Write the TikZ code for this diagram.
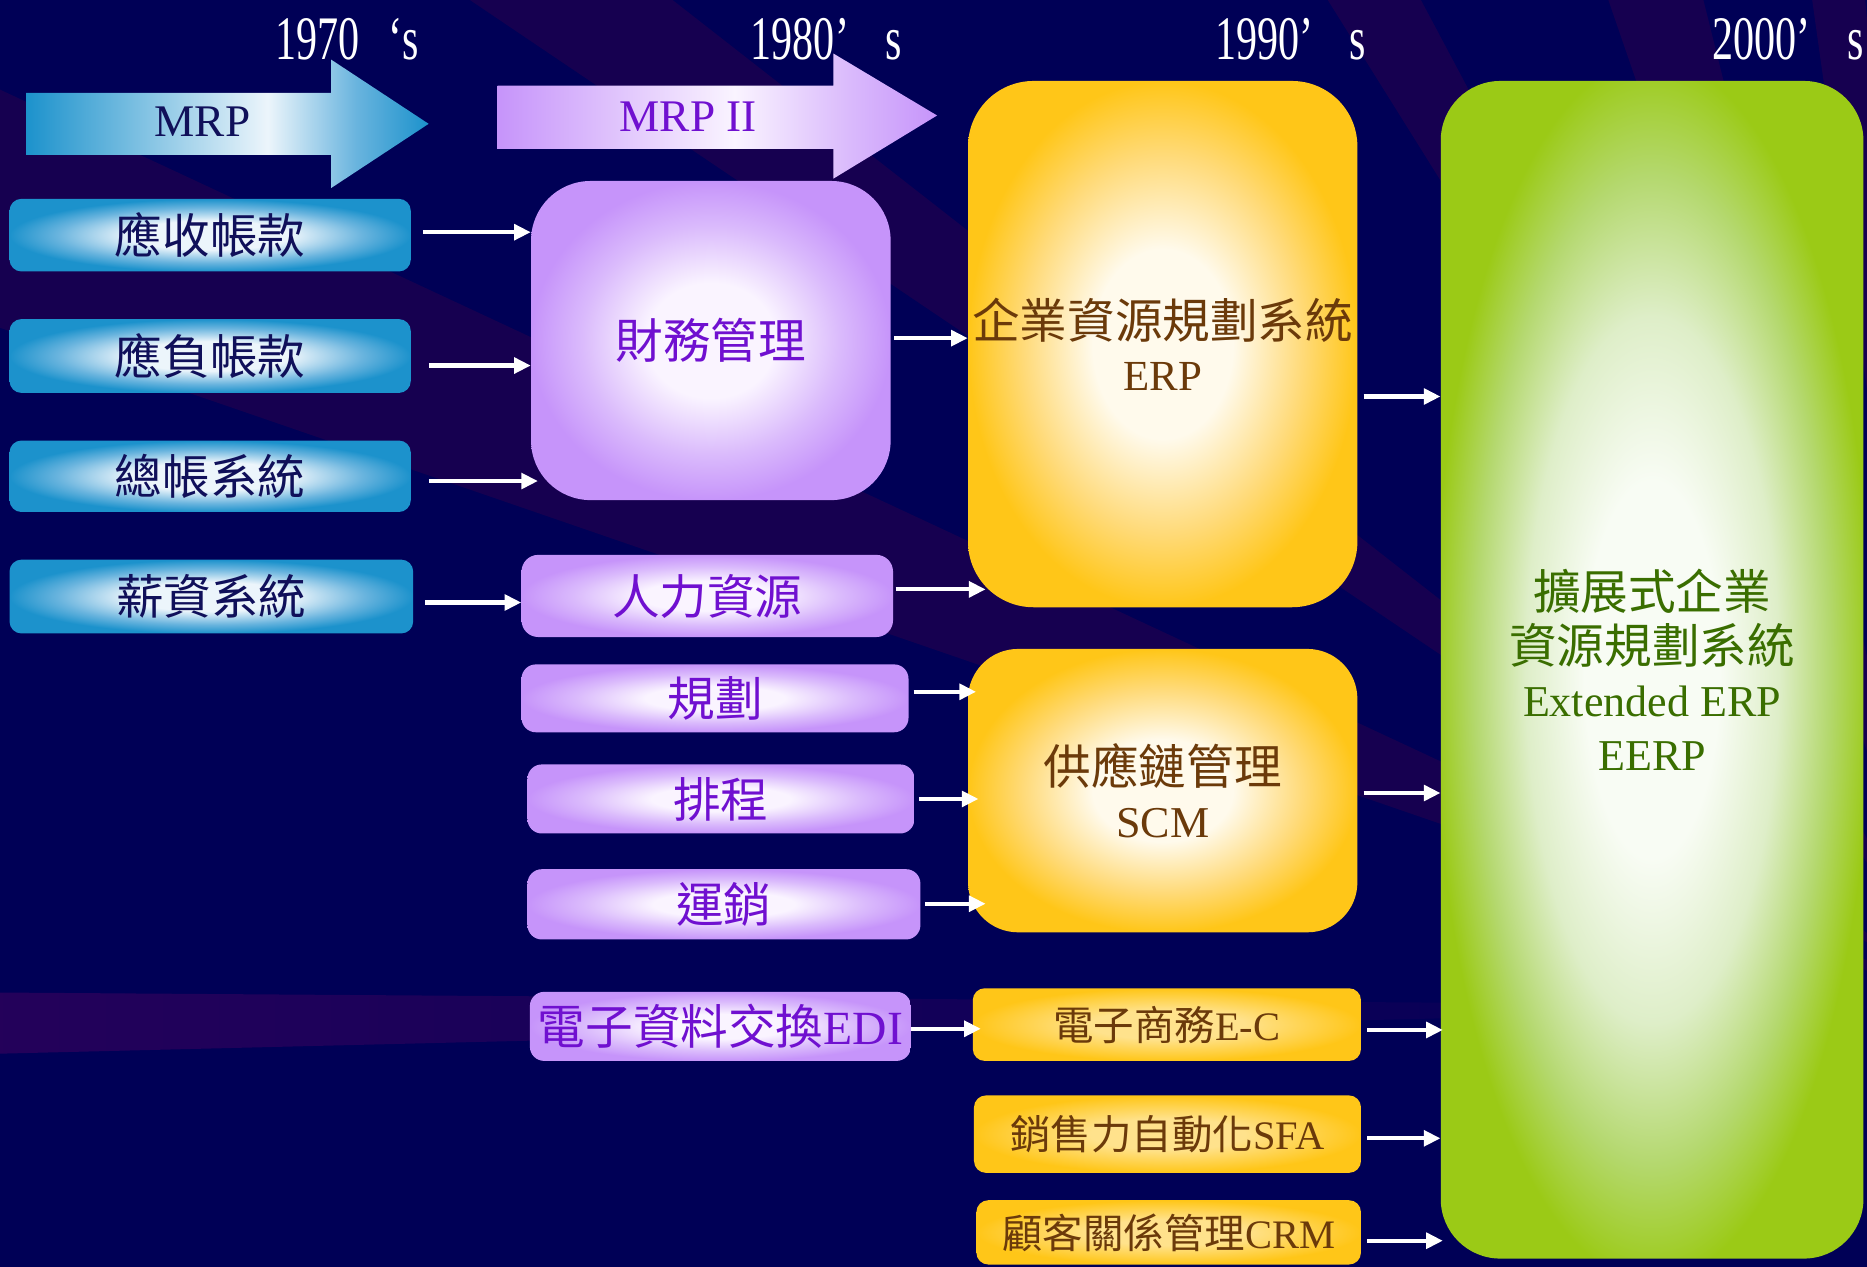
\documentclass[tikz,border=0pt]{standalone}
\usepackage{fontspec}
\usepackage{graphicx}
\setmainfont{Liberation Serif}
\newfontfamily\cjk{Noto Sans CJK TC}
\usetikzlibrary{arrows.meta,calc,fadings}

\definecolor{bgnavy}{RGB}{0,0,86}
\definecolor{raycol}{RGB}{22,0,80}
\definecolor{pinkray}{RGB}{44,2,92}
\definecolor{blueout}{RGB}{28,146,204}
\definecolor{bluemid}{RGB}{105,180,222}
\definecolor{bluein}{RGB}{236,245,251}
\definecolor{purpout}{RGB}{198,148,250}
\definecolor{purpmid}{RGB}{218,186,252}
\definecolor{purpin}{RGB}{250,244,255}
\definecolor{yelout}{RGB}{255,198,24}
\definecolor{yelmid}{RGB}{255,218,120}
\definecolor{yelin}{RGB}{255,250,236}
\definecolor{yelsin}{RGB}{255,226,140}
\definecolor{grnout}{RGB}{155,202,22}
\definecolor{grnmid}{RGB}{180,216,110}
\definecolor{grnlight}{RGB}{222,238,200}
\definecolor{grnin}{RGB}{248,252,244}
\definecolor{navytext}{RGB}{16,16,90}
\definecolor{purptext}{RGB}{112,16,208}
\definecolor{browntext}{RGB}{107,58,10}
\definecolor{greentext}{RGB}{58,110,0}

% note: the 50bp central square of a shading is mapped onto the path's bounding box
\pgfdeclareradialshading{blueglow}{\pgfpoint{0bp}{0bp}}{color(0bp)=(bluein);color(10bp)=(bluein);color(19bp)=(bluemid);color(25bp)=(blueout);color(50bp)=(blueout)}
\pgfdeclareradialshading{purpglow}{\pgfpoint{0bp}{0bp}}{color(0bp)=(purpin);color(9bp)=(purpin);color(18bp)=(purpmid);color(25bp)=(purpout);color(50bp)=(purpout)}
\pgfdeclareradialshading{yelglow}{\pgfpoint{0bp}{0bp}}{color(0bp)=(yelin);color(9bp)=(yelin);color(18bp)=(yelmid);color(25bp)=(yelout);color(50bp)=(yelout)}
\pgfdeclareradialshading{yelsmall}{\pgfpoint{0bp}{0bp}}{color(0bp)=(yelsin);color(10bp)=(yelsin);color(25bp)=(yelout);color(50bp)=(yelout)}
\pgfdeclareradialshading{grnglow}{\pgfpoint{0bp}{0bp}}{color(0bp)=(grnin);color(8bp)=(grnin);color(15bp)=(grnlight);color(21bp)=(grnmid);color(26bp)=(grnout);color(50bp)=(grnout)}
\pgfdeclarehorizontalshading{mrpshade}{100bp}{color(0bp)=(blueout);color(25bp)=(blueout);color(55bp)=(bluein);color(66bp)=(bluemid);color(75bp)=(blueout);color(100bp)=(blueout)}
\pgfdeclarehorizontalshading{mrpiishade}{100bp}{color(0bp)=(purpout);color(25bp)=(purpout);color(52bp)=(purpin);color(65bp)=(purpmid);color(75bp)=(purpout);color(100bp)=(purpout)}

\begin{document}
\begin{tikzpicture}[x=1pt,y=-1pt,
  base/.style={rectangle, inner sep=0pt, align=center},
  bluebox/.style={base, rounded corners=10pt, shading=blueglow, text=navytext, font=\cjk\fontsize{40}{46}\selectfont},
  purpbox/.style={base, rounded corners=12pt, shading=purpglow, text=purptext, font=\cjk\fontsize{40}{46}\selectfont},
  yelbox/.style={base, rounded corners=10pt, shading=yelsmall, text=browntext, font=\fontsize{34}{40}\selectfont},
  conn/.style={white, line width=3.5pt, -{Triangle[length=14pt,width=13pt]}},
  yearlab/.style={text=white, inner sep=0pt, font=\fontsize{52}{56}\selectfont},
  ray/.style={fill=raycol}]

\useasboundingbox (0,0) rectangle (1568,1064);
\clip (0,0) rectangle (1568,1064);
\fill[bgnavy] (0,0) rectangle (1568,1064);

% background rays
\foreach \a/\b in {199/205, 214/218, 238/242, 251/256, 262/265}{
  \fill[ray] (1640,840) -- +(\a:3000) -- +(\b:3000) -- cycle;
}
\fill[pinkray, path fading=east] (1640,845) -- +(178.6:2000) -- +(180.4:2000) -- cycle;

% year labels
\node[yearlab] (y70) at (291.5,33) {\scalebox{0.68}[1]{1970\hspace{36pt}‘s}};
\node[yearlab] (y80) at (694,33) {\scalebox{0.68}[1]{1980’\hspace{45pt}s}};
\node[yearlab] (y90) at (1084,33) {\scalebox{0.68}[1]{1990’\hspace{45pt}s}};
\node[yearlab, anchor=west] (y00) at (1438,33) {\scalebox{0.68}[1]{2000’\hspace{45pt}s}};

% block arrows
\path[shading=mrpshade] (22,78) -- (278,78) -- (278,50) -- (360,104) -- (278,158) -- (278,130) -- (22,130) -- cycle;
\node[text=navytext, font=\fontsize{38}{40}\selectfont] (mrp) at (170,102) {MRP};
\path[shading=mrpiishade] (418,72) -- (700,72) -- (700,45) -- (787,97) -- (700,150) -- (700,125) -- (418,125) -- cycle;
\node[text=purptext, font=\fontsize{38}{40}\selectfont] (mrpii) at (578,98) {MRP II};

% 1970s boxes
\node[bluebox, minimum width=337, minimum height=61] (ar) at (176.5,197.5) {應收帳款};
\node[bluebox, minimum width=337, minimum height=62] (ap) at (176.5,299) {應負帳款};
\node[bluebox, minimum width=337, minimum height=60] (gl) at (176.5,400) {總帳系統};
\node[bluebox, minimum width=339, minimum height=62] (pay) at (177.5,501) {薪資系統};

% 1980s boxes
\node[purpbox, rounded corners=50pt, minimum width=302, minimum height=268] (fin) at (597,286) {財務管理};
\node[purpbox, rounded corners=14pt, minimum width=312, minimum height=69] (hr) at (594,500.5) {人力資源};
\node[purpbox, minimum width=325, minimum height=57] (plan) at (600.5,586.5) {規劃};
\node[purpbox, minimum width=325, minimum height=58] (sched) at (605.5,671) {排程};
\node[purpbox, minimum width=330, minimum height=59] (dist) at (608,759.5) {運銷};
\node[purpbox, minimum width=320, minimum height=58] (edi) at (605,862) {電子資料交換{\rmfamily EDI}};

% 1990s boxes
\node[base, rounded corners=55pt, shading=yelglow, text=browntext, font=\fontsize{40}{44}\selectfont, minimum width=327, minimum height=442] (erp) at (976.5,289) {{\cjk 企業資源規劃系統}\\{\fontsize{36}{44}\selectfont ERP}};
\node[base, rounded corners=42pt, shading=yelglow, text=browntext, font=\fontsize{40}{44}\selectfont, minimum width=327, minimum height=238] (scm) at (976.5,664) {{\cjk 供應鏈管理}\\{\fontsize{37}{44}\selectfont SCM}};
\node[yelbox, minimum width=326, minimum height=61] (ec) at (980,860.5) {{\cjk 電子商務}E-C};
\node[yelbox, minimum width=325, minimum height=65] (sfa) at (980.5,952.5) {{\cjk 銷售力自動化}SFA};
\node[yelbox, minimum width=323, minimum height=54] (crm) at (981.5,1035) {{\cjk 顧客關係管理}CRM};

% 2000s box
\node[base, rounded corners=50pt, shading=grnglow, text=greentext, font=\fontsize{40}{45}\selectfont, minimum width=355, minimum height=989] (eerp) at (1387.5,562.5) {{\cjk 擴展式企業}\\{\cjk 資源規劃系統}\\{\fontsize{37}{45}\selectfont Extended ERP}\\{\fontsize{37}{45}\selectfont EERP}};

% connectors
\draw[conn] ($(ar.east)+(10,-2.5)$) -- ($(fin.west)+(0,-91)$);
\draw[conn] ($(ap.east)+(15,8)$) -- ($(fin.west)+(0,21)$);
\draw[conn] ($(gl.east)+(15,4)$) -- ($(fin.west)+(6,118)$);
\draw[conn] ($(pay.east)+(10,5)$) -- ($(hr.west)+(0,5.5)$);
\draw[conn] ($(fin.east)+(3,-2)$) -- ($(erp.west)+(0,-5)$);
\draw[conn] ($(hr.east)+(2,-5.5)$) -- ($(erp.west)+(15,206)$);
\draw[conn] ($(plan.east)+(4,-5.5)$) -- ($(scm.west)+(7,-83)$);
\draw[conn] ($(sched.east)+(4,0)$) -- ($(scm.west)+(9,7)$);
\draw[conn] ($(dist.east)+(4,-0.5)$) -- ($(scm.west)+(15,95)$);
\draw[conn] ($(edi.east)+(0,2)$) -- ($(ec.west)+(7,3.5)$);
\draw[conn] ($(erp.east)+(5,44)$) -- ($(eerp.west)+(0,-229.5)$);
\draw[conn] ($(scm.east)+(5,2)$) -- ($(eerp.west)+(0,103.5)$);
\draw[conn] ($(ec.east)+(5,4.5)$) -- ($(eerp.west)+(2,302.5)$);
\draw[conn] ($(sfa.east)+(5,3.5)$) -- ($(eerp.west)+(0,393.5)$);
\draw[conn] ($(crm.east)+(5,7)$) -- ($(eerp.west)+(2,479.5)$);
\end{tikzpicture}
\end{document}
